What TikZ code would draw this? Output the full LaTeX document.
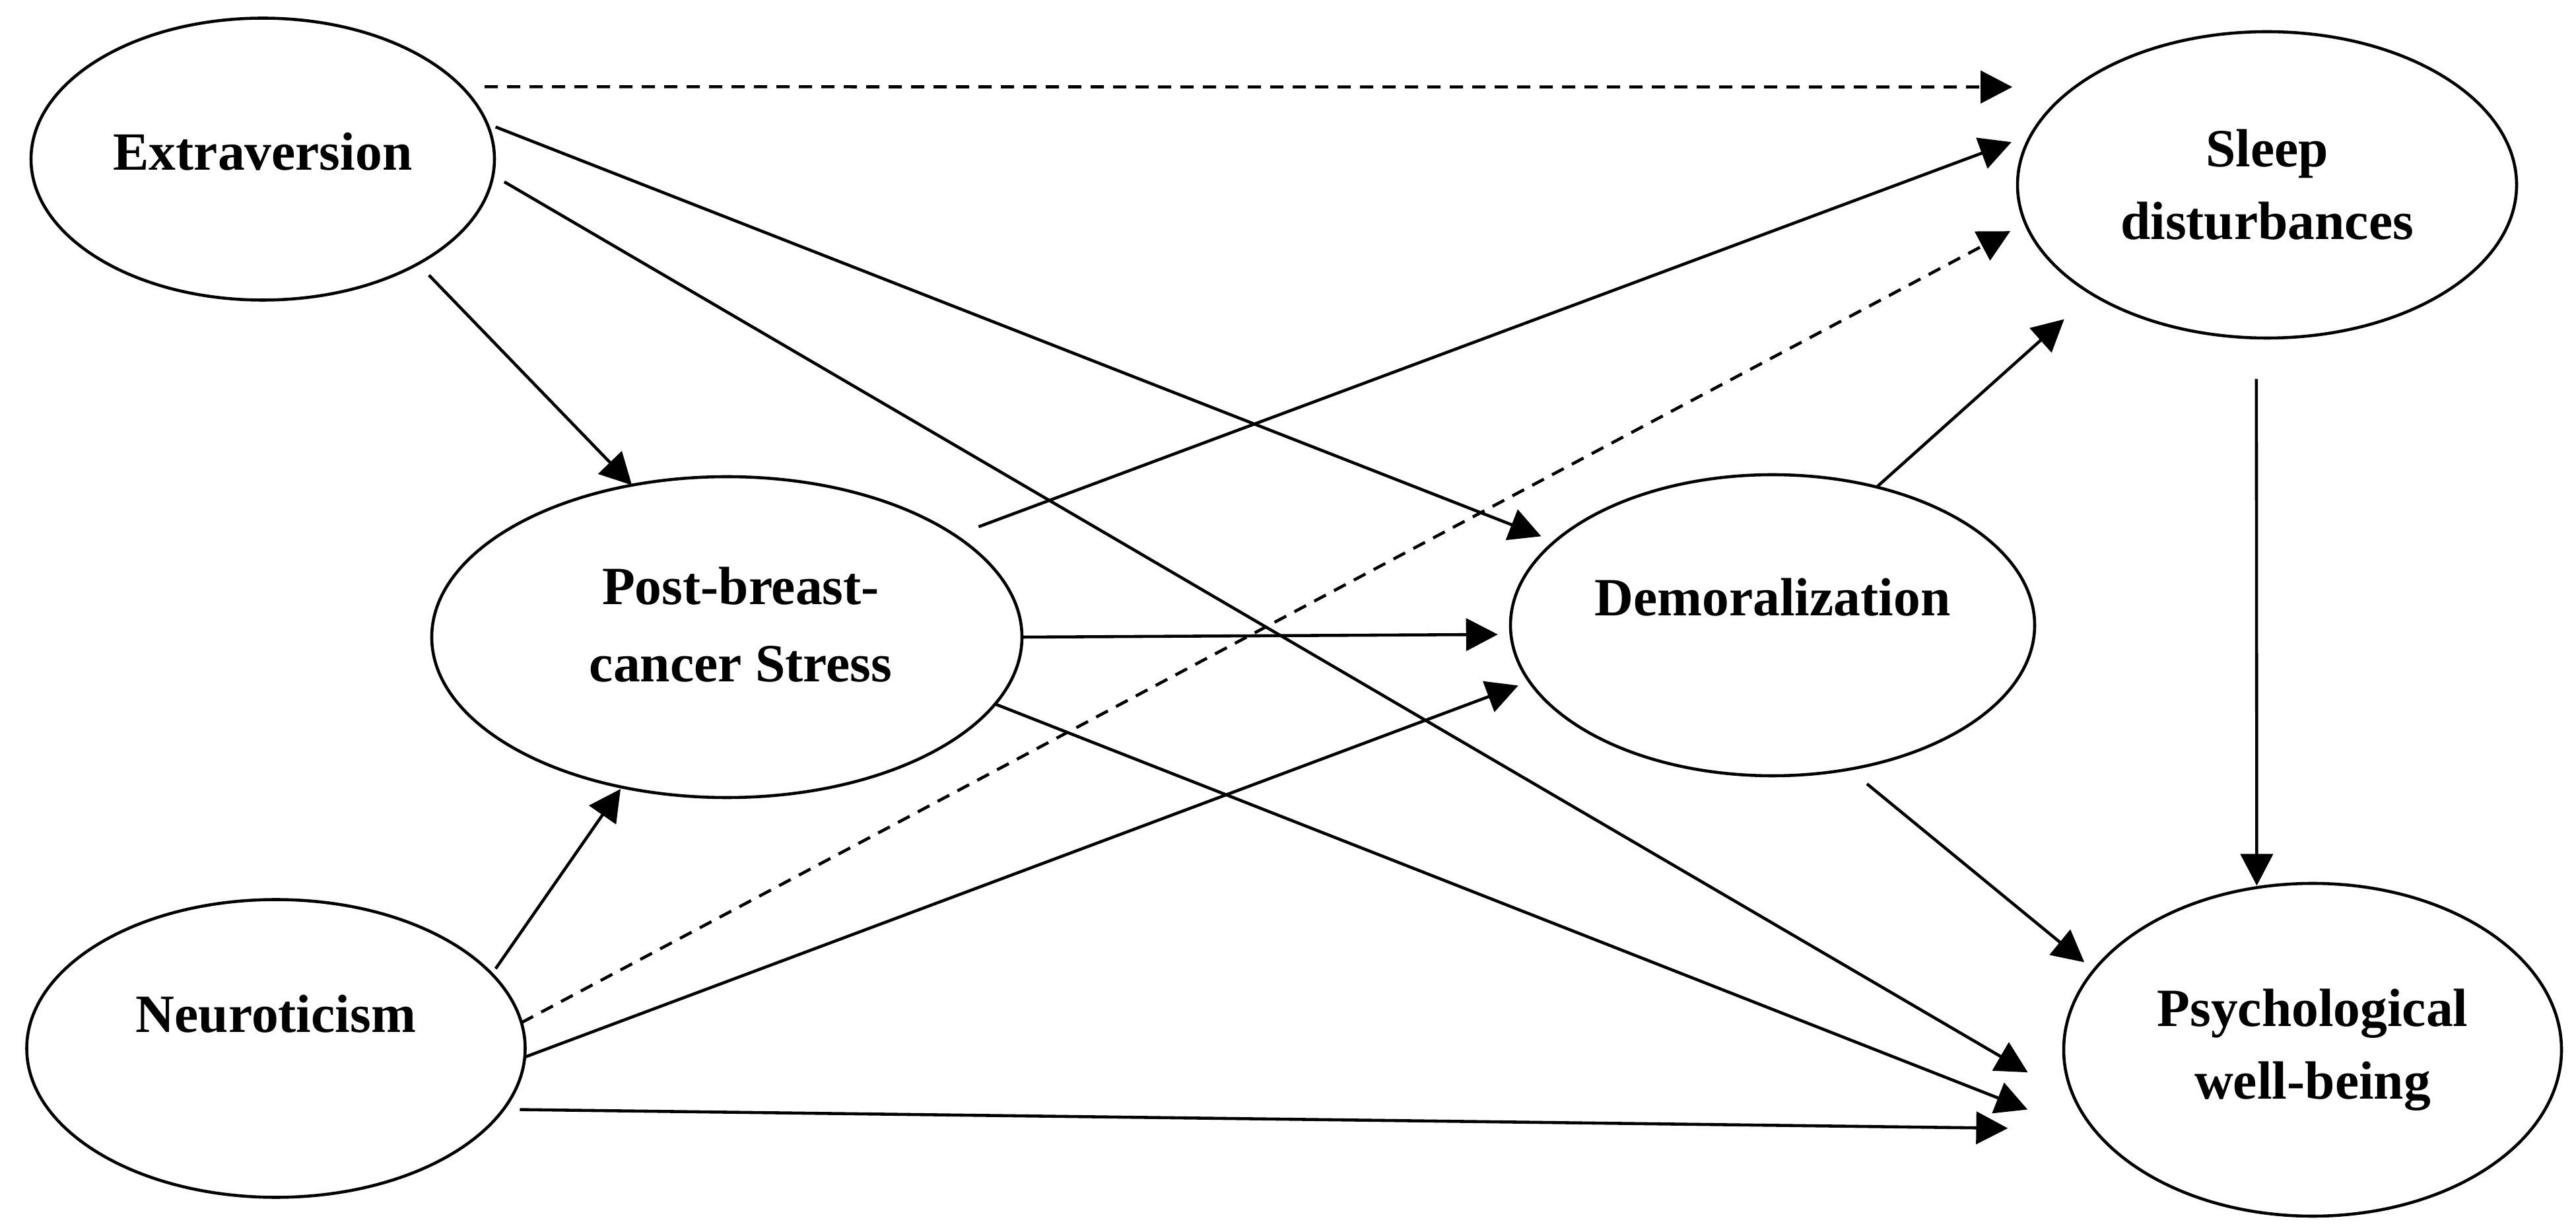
\documentclass[tikz,border=0pt]{standalone}
\usepackage{fontspec}
\setmainfont{Liberation Serif}
\usetikzlibrary{shapes.geometric, arrows.meta}

\begin{document}
\begin{tikzpicture}[
    var/.style={ellipse, draw, line width=1.3pt, inner sep=0pt, outer sep=0pt, align=center, font=\fontsize{23.2}{31.3}\selectfont\bfseries},
    link/.style={-{Triangle[length=4.8mm, width=4.9mm]}, line width=1.3pt},
    dlink/.style={link, dash pattern=on 2mm off 1.4mm},
]
    \useasboundingbox (0,0) rectangle (39.02,-18.66);
    \node[var, minimum width=7.02cm, minimum height=4.27cm, text height=0.54cm, text depth=0.2cm] (ext) at (3.98,-2.41) {Extraversion};
    \node[var, minimum width=8.94cm, minimum height=4.86cm] (post) at (11.01,-9.65) {\hspace*{0.42cm}Post-breast-\\[0.07cm]\hspace*{0.42cm}cancer Stress\rule[-0.38cm]{0pt}{0pt}};
    \node[var, minimum width=7.55cm, minimum height=4.51cm, text height=0.54cm, text depth=1.04cm] (neur) at (4.18,-15.88) {Neuroticism};
    \node[var, minimum width=7.94cm, minimum height=4.56cm, text height=0.54cm, text depth=0.82cm] (dem) at (26.85,-9.47) {Demoralization};
    \node[var, minimum width=7.56cm, minimum height=4.64cm] (sleep) at (34.34,-2.80) {Sleep\\disturbances};
    \node[var, minimum width=7.54cm, minimum height=5.04cm] (psy) at (35.03,-15.90) {Psychological\\well-being};

    \draw[dlink, shorten <=3.5mm, shorten >=9.5mm] (ext.20.8) -- (sleep.153.6);
    \draw[link, shorten <=1.4mm, shorten >=2.2mm] (ext.9.8) -- (dem.159.2);
    \draw[link, shorten <=2.0mm, shorten >=8.35mm] (ext.-4.2) -- (psy.192.1);
    \draw[link, shorten <=2.4mm] (ext.-34.4) -- (post.122.9);
    \draw[link, shorten <=3.8mm, shorten >=3.2mm] (post.24.4) -- (sleep.168.7);
    \draw[dlink, shorten >=2.6mm] (neur.6.2) -- (sleep.189.0);
    \draw[link, shorten >=2.0mm] (post.0.5) -- (dem.182.0);
    \draw[link, shorten >=12.2mm] (post.-14.9) -- (psy.203.3);
    \draw[link, shorten <=1.0mm, shorten >=0.35mm] (neur.19.5) -- (post.235.0);
    \draw[link, shorten >=1.8mm] (neur.-2.5) -- (dem.193.6);
    \draw[link, shorten <=2.5mm, shorten >=13.05mm] (neur.-15.2) -- (psy.200.9);
    \draw[link, shorten >=5.7mm] (dem.53.1) -- (sleep.212.3);
    \draw[link, shorten <=3.5mm, shorten >=1.9mm] (dem.-62.9) -- (psy.160.8);
    \draw[link, shorten <=6.2mm, shorten >=0.3mm] (sleep.-94.2) -- (psy.109.3);
\end{tikzpicture}
\end{document}
